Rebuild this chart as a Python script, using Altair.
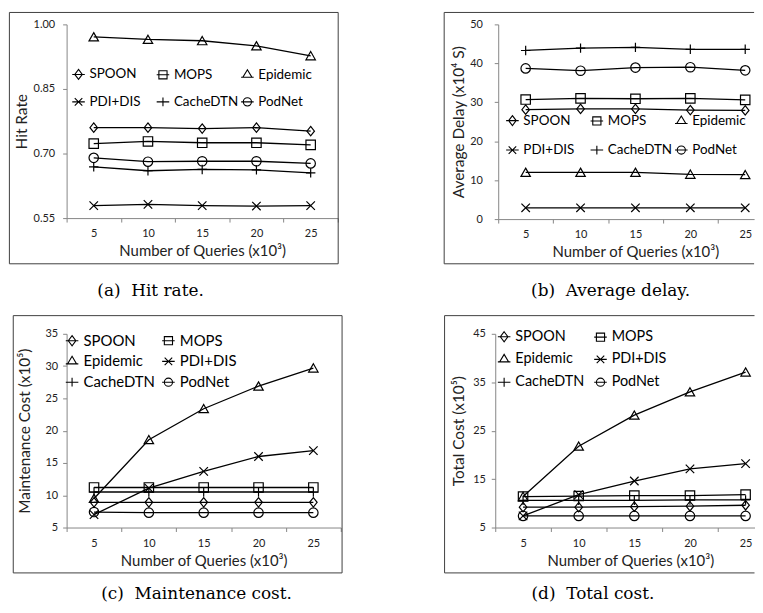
import altair as alt
import pandas as pd

QUERIES = [5, 10, 15, 20, 25]
SERIES = ["SPOON", "MOPS", "Epidemic", "PDI+DIS", "CacheDTN", "PodNet"]

# values per series, in SERIES order
HIT_RATE = [
    [0.760, 0.760, 0.758, 0.760, 0.752],
    [0.723, 0.728, 0.725, 0.725, 0.720],
    [0.971, 0.965, 0.962, 0.950, 0.927],
    [0.579, 0.582, 0.579, 0.578, 0.579],
    [0.669, 0.660, 0.663, 0.662, 0.655],
    [0.690, 0.681, 0.682, 0.682, 0.677],
]
AVG_DELAY = [
    [28.1, 28.3, 28.3, 28.0, 27.9],
    [30.7, 31.0, 30.9, 31.0, 30.6],
    [12.0, 12.0, 12.0, 11.5, 11.4],
    [2.9, 2.9, 2.9, 2.9, 2.9],
    [43.3, 43.9, 44.1, 43.6, 43.6],
    [38.7, 38.1, 38.9, 39.0, 38.2],
]
MAINT_COST = [
    [8.9, 8.9, 8.9, 8.9, 8.9],
    [11.2, 11.2, 11.2, 11.2, 11.2],
    [9.5, 18.6, 23.4, 26.9, 29.7],
    [7.0, 11.1, 13.7, 16.0, 16.9],
    [10.5, 10.5, 10.5, 10.5, 10.5],
    [7.4, 7.3, 7.3, 7.3, 7.3],
]
TOTAL_COST = [
    [9.2, 9.2, 9.3, 9.4, 9.6],
    [11.4, 11.5, 11.6, 11.6, 11.8],
    [11.4, 21.8, 28.2, 33.0, 37.1],
    [7.4, 11.8, 14.6, 17.1, 18.2],
    [10.6, 10.6, 10.6, 10.7, 10.7],
    [7.4, 7.4, 7.4, 7.4, 7.4],
]

HIT_TICKS = [0.55, 0.70, 0.85, 1.00]
DELAY_TICKS = [0, 10, 20, 30, 40, 50]
MAINT_TICKS = [5, 10, 15, 20, 25, 30, 35]
TOTAL_TICKS = [5, 15, 25, 35, 45]

X_TICKS = sorted(QUERIES + [q - 2.5 for q in QUERIES] + [QUERIES[-1] + 2.5])

PLOT_SHAPES = [
    "M0,-1L0.8,0L0,1L-0.8,0Z",
    "square",
    "M0,-0.9L1,0.85L-1,0.85Z",
    "M-0.9,-0.9L0.9,0.9M-0.9,0.9L0.9,-0.9",
    "M-1,0L1,0M0,-1L0,1",
    "circle",
]
LEGEND_SHAPES = [
    "M-1,0L1,0M0,-0.8L0.6,0L0,0.8L-0.6,0Z",
    "M-1,0L1,0M-0.65,-0.65L0.65,-0.65L0.65,0.65L-0.65,0.65Z",
    "M-1,0.4L1,0.4M0,-0.8L0.72,0.4L-0.72,0.4Z",
    "M-1,0L1,0M-0.6,-0.6L0.6,0.6M-0.6,0.6L0.6,-0.6",
    "M-1,0L1,0M0,-0.7L0,0.7",
    "M-1,0L1,0M0.65,0A0.65,0.65,0,1,1,-0.65,0A0.65,0.65,0,1,1,0.65,0Z",
]

FONT = "Lato"
AXIS_GRAY = "#868686"
FRAME = "#404040"


def to_frame(values):
    rows = []
    for name, vals in zip(SERIES, values):
        for q, v in zip(QUERIES, vals):
            rows.append({"q": q, "v": v, "series": name})
    return pd.DataFrame(rows)


def panel(values, ytitle, ydomain, yticks, yformat, width, height, xmax,
          ylabpad, ytitle_x, xtitle_x, leg, frame, caption, cap_dx, cap_off, closed):
    df = to_frame(values)
    base = alt.Chart(df)
    x = alt.X(
        "q:Q",
        scale=alt.Scale(domain=[2.5, xmax], nice=False, zero=False),
        axis=alt.Axis(
            values=[t for t in X_TICKS if t <= xmax],
            labelExpr="datum.value % 5 === 0 ? datum.label : ''",
            tickOpacity={"condition": {"test": "datum.value % 5 === 0", "value": 0}, "value": 1},
            tickSize=4,
            labelPadding=6,
            labelFontSize=11,
            title="Number of Queries (x10³)",
            titleX=xtitle_x,
            titleY=33,
            titleBaseline="middle",
            titleFontSize=15,
        ),
    )
    y = alt.Y(
        "v:Q",
        scale=alt.Scale(domain=ydomain, nice=False, zero=False),
        axis=alt.Axis(
            values=yticks,
            format=yformat,
            tickSize=4,
            labelPadding=ylabpad,
            labelFontSize=11,
            title=ytitle,
            titleX=ytitle_x,
            titleBaseline="middle",
            titleFontSize=15.5,
        ),
    )
    lines = base.mark_line(color="black", strokeWidth=1.3).encode(
        x=x, y=y, detail="series:N"
    )
    points = base.mark_point(filled=False, color="black", strokeWidth=1.2, size=90, opacity=1).encode(
        x=x,
        y=y,
        shape=alt.Shape("series:N", scale=alt.Scale(domain=SERIES, range=PLOT_SHAPES), legend=None),
    )
    legend_layer = base.transform_filter("false").mark_point(
        filled=False, color="black", strokeWidth=1.2, opacity=1
    ).encode(
        x=x,
        y=y,
        shape=alt.Shape(
            "series:N",
            scale=alt.Scale(domain=SERIES, range=LEGEND_SHAPES),
            legend=alt.Legend(
                title=None,
                orient="none",
                direction="horizontal",
                legendX=leg["x"],
                legendY=leg["y"],
                columns=leg["cols"],
                gridAlign="all",
                columnPadding=leg["colpad"],
                rowPadding=leg["rowpad"],
                symbolSize=160,
                symbolStrokeColor="black",
                symbolStrokeWidth=1.1,
                labelFont=FONT,
                labelFontSize=leg["fs"],
                labelColor="black",
                labelOffset=4,
                padding=0,
            ),
        ),
    )
    one = pd.DataFrame({"k": [0]})
    fl, fr, ft, fb = frame
    if closed:
        frame_layers = [
            alt.Chart(one).mark_rect(filled=False, stroke=FRAME, strokeWidth=1).encode(
                x=alt.value(fl), x2=alt.value(fr), y=alt.value(ft), y2=alt.value(fb)
            )
        ]
    else:
        frame_layers = [
            alt.Chart(one).mark_rule(color=FRAME, strokeWidth=1).encode(
                x=alt.value(fl), x2=alt.value(fr), y=alt.value(ft)
            ),
            alt.Chart(one).mark_rule(color=FRAME, strokeWidth=1).encode(
                x=alt.value(fl), x2=alt.value(fr), y=alt.value(fb)
            ),
            alt.Chart(one).mark_rule(color=FRAME, strokeWidth=1).encode(
                x=alt.value(fl), y=alt.value(ft), y2=alt.value(fb)
            ),
        ]
    return alt.layer(*frame_layers, lines, points, legend_layer).resolve_scale(
        shape="independent"
    ).properties(
        width=width,
        height=height,
        title=alt.TitleParams(
            caption,
            orient="bottom",
            anchor="start",
            dx=cap_dx,
            offset=cap_off,
            baseline="top",
            font="DejaVu Serif",
            fontSize=17,
            fontWeight="normal",
            color="black",
        ),
    )


pa = panel(HIT_RATE, "Hit Rate", [0.55, 1.0], HIT_TICKS, ".2f", 273, 195, 27.5,
           8, -45, 136.5,
           {"x": 5, "y": 43, "cols": 3, "colpad": 0, "rowpad": 13, "fs": 13.5},
           (-57.6, 273.4, -12, 241), "(a)\u00a0\u00a0Hit rate.", 89, 19, True)
pb = panel(AVG_DELAY, "Average Delay (x10⁴ S)", [0, 50], DELAY_TICKS, "d", 257.6, 196, 25.81,
           12, -40, 138,
           {"x": 7.3, "y": 89.5, "cols": 3, "colpad": 0, "rowpad": 15, "fs": 13.5},
           (-54.4, 257.6, -12, 241), "(b)\u00a0\u00a0Average delay.", 88, 19, False)
pc = panel(MAINT_COST, "Maintenance Cost (x10⁵)", [5, 35], MAINT_TICKS, "d", 276, 195, 27.5,
           5, -42, 138,
           {"x": -2, "y": -0.8, "cols": 2, "colpad": 4, "rowpad": 5, "fs": 15},
           (-53.7, 277.3, -18.3, 240.7), "(c)\u00a0\u00a0Maintenance cost.", 89, 13, True)
pd_ = panel(TOTAL_COST, "Total Cost (x10⁵)", [5, 45], TOTAL_TICKS, "d", 261, 195, 25.8,
            6, -37, 136,
            {"x": 1.7, "y": -4.5, "cols": 2, "colpad": 6, "rowpad": 7, "fs": 14.5},
            (-51, 261, -18.3, 240.7), "(d)\u00a0\u00a0Total cost.", 88, 13, False)

chart = alt.concat(
    pa, pb, pc, pd_,
    columns=2,
    align="none",
    spacing={"row": 15.5, "column": 101.5},
).properties(
    padding={"left": 0, "top": 1.5, "right": 0, "bottom": 0},
).configure(
    font=FONT
).configure_view(
    stroke=None
).configure_axis(
    grid=False,
    domainColor=AXIS_GRAY,
    tickColor=AXIS_GRAY,
    labelColor="#222222",
    titleColor="#222222",
    labelFont=FONT,
    titleFont=FONT,
    titleFontWeight="normal",
)

chart.save("out.html", embed_options={"renderer": "svg", "actions": False})
